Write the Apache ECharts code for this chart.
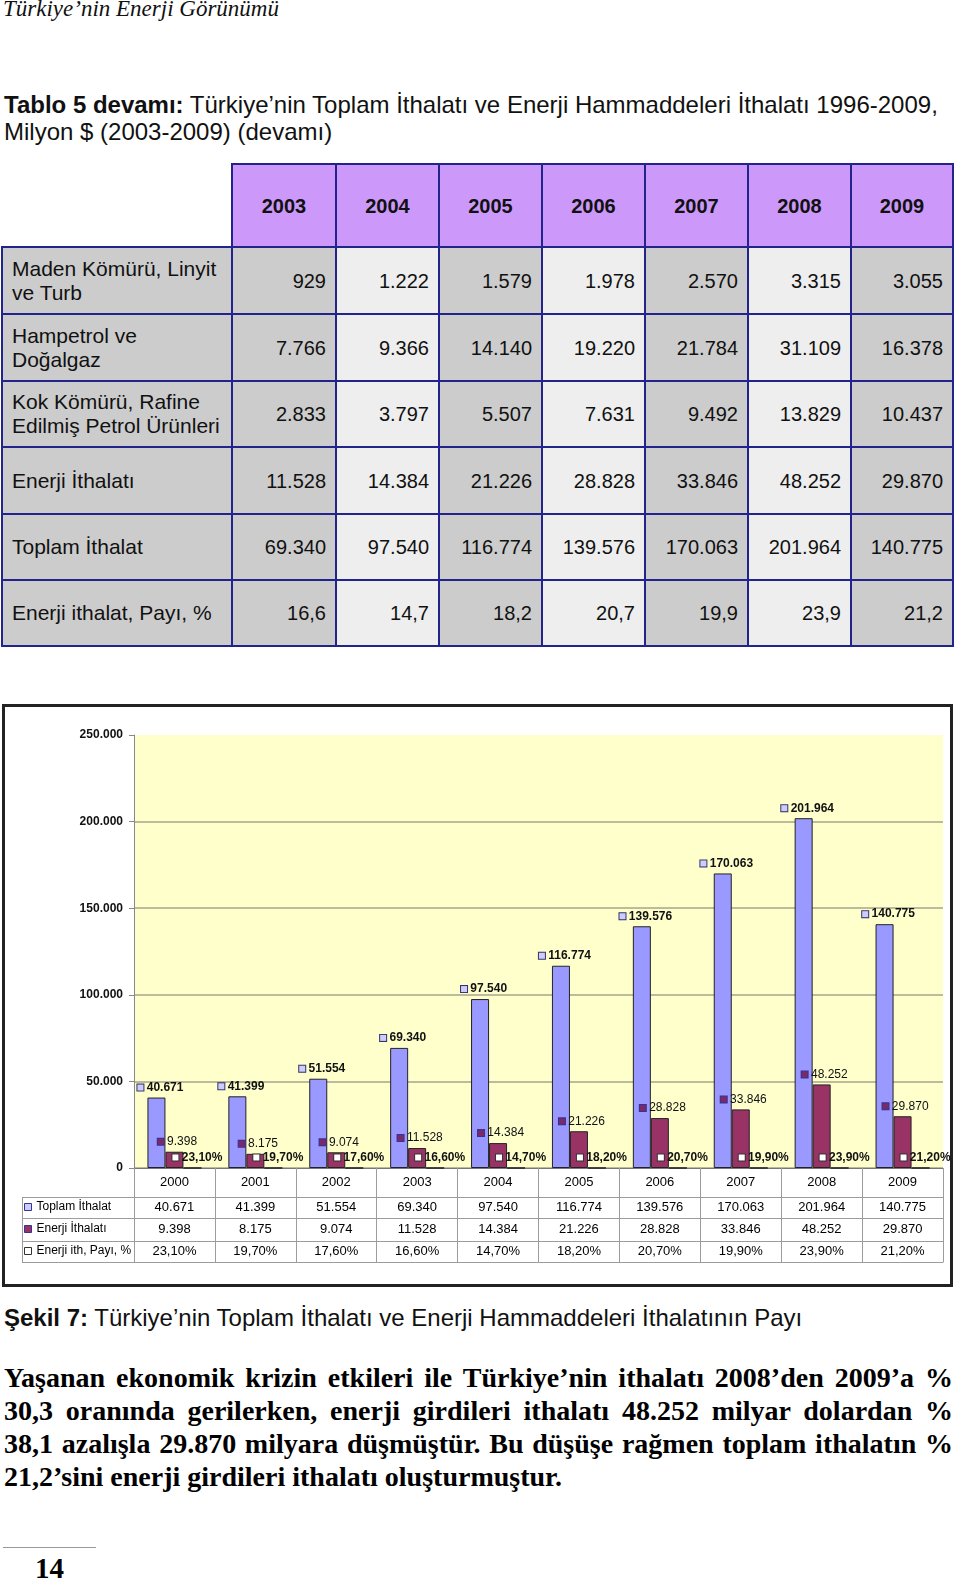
<!DOCTYPE html>
<html>
<head>
<meta charset="utf-8">
<script src="https://cdn.jsdelivr.net/npm/echarts/dist/echarts.min.js"></script>
<style>
  html, body { margin:0; padding:0; background:#fff; }
  body { width:960px; height:1585px; position:relative; overflow:hidden; }
  .abs { position:absolute; }
  .sans { font-family:"Liberation Sans", Arial, sans-serif; color:#111; }
  .serif { font-family:"Liberation Serif", "Times New Roman", serif; color:#111; }
  .cell { position:absolute; box-sizing:border-box; border:2px solid #23238c; display:flex; align-items:center;
          font-family:"Liberation Sans", Arial, sans-serif; font-size:21px; color:#111; line-height:24px; white-space:pre-line; }
  .para { position:absolute; left:4px; width:949px; font-family:"Liberation Serif","Times New Roman",serif; font-weight:bold;
          font-size:28px; line-height:33px; color:#000; white-space:nowrap; text-align:justify; text-align-last:justify; }
</style>
</head>
<body>
<div class="abs serif" style="left:3px; top:-4px; font-size:23px; line-height:26px; font-style:italic; white-space:nowrap;">Türkiye’nin Enerji Görünümü</div>

<div class="abs sans" style="left:4px; top:91px; font-size:24px; line-height:27px; white-space:nowrap;"><b>Tablo 5 devamı:</b> Türkiye’nin Toplam İthalatı ve Enerji Hammaddeleri İthalatı 1996-2009,<br>Milyon $ (2003-2009) (devamı)</div>

<div id="tbl"></div>

<div id="chart" class="abs" style="left:0; top:700px; width:960px; height:592px;"></div>

<div class="abs sans" style="left:4px; top:1304px; font-size:24px; line-height:28px; white-space:nowrap;"><b>Şekil 7:</b> Türkiye’nin Toplam İthalatı ve Enerji Hammaddeleri İthalatının Payı</div>

<div class="para" style="top:1361px;">Yaşanan ekonomik krizin etkileri ile Türkiye’nin ithalatı 2008’den 2009’a %</div>
<div class="para" style="top:1394px;">30,3 oranında gerilerken, enerji girdileri ithalatı 48.252 milyar dolardan %</div>
<div class="para" style="top:1427px;">38,1 azalışla 29.870 milyara düşmüştür. Bu düşüşe rağmen toplam ithalatın %</div>
<div class="para" style="top:1460px; text-align-last:left;">21,2’sini enerji girdileri ithalatı oluşturmuştur.</div>

<div class="abs" style="left:3px; top:1547px; width:93px; height:1px; background:#999;"></div>
<div class="abs serif" style="left:35px; top:1551px; font-size:29px; line-height:34px; font-weight:bold; color:#000;">14</div>

<script>
// ---------- Top table data ----------
var tableYears = ['2003','2004','2005','2006','2007','2008','2009'];
var rowLabels = ['Maden Kömürü, Linyit\nve Turb', 'Hampetrol ve\nDoğalgaz', 'Kok Kömürü, Rafine\nEdilmiş Petrol Ürünleri', 'Enerji İthalatı', 'Toplam İthalat', 'Enerji ithalat, Payı, %'];
var madenKomuru   = ['929','1.222','1.579','1.978','2.570','3.315','3.055'];
var hampetrol     = ['7.766','9.366','14.140','19.220','21.784','31.109','16.378'];
var kokKomuru     = ['2.833','3.797','5.507','7.631','9.492','13.829','10.437'];
var enerjiIthalati= ['11.528','14.384','21.226','28.828','33.846','48.252','29.870'];
var toplamIthalat = ['69.340','97.540','116.774','139.576','170.063','201.964','140.775'];
var enerjiPayi    = ['16,6','14,7','18,2','20,7','19,9','23,9','21,2'];

// ---------- Chart data ----------
var years  = ['2000','2001','2002','2003','2004','2005','2006','2007','2008','2009'];
var toplam = [40671, 41399, 51554, 69340, 97540, 116774, 139576, 170063, 201964, 140775];
var enerji = [9398, 8175, 9074, 11528, 14384, 21226, 28828, 33846, 48252, 29870];
var pay    = [23.10, 19.70, 17.60, 16.60, 14.70, 18.20, 20.70, 19.90, 23.90, 21.20];
var yTicks = { min: 0, max: 250000, interval: 50000 };

// ---------- build top table ----------
(function(){
  var colX = [2, 232, 336, 439, 542, 645, 748, 851, 953];
  var rowY = [247, 314, 381, 447, 514, 580, 646];
  var rows = [madenKomuru, hampetrol, kokKomuru, enerjiIthalati, toplamIthalat, enerjiPayi];
  var host = document.getElementById('tbl');
  function cell(x0, y0, x1, y1, txt, bg, align, extra){
    var d = document.createElement('div');
    d.className = 'cell';
    d.style.left = (x0 - 1) + 'px'; d.style.top = (y0 - 1) + 'px';
    d.style.width = (x1 - x0 + 2) + 'px'; d.style.height = (y1 - y0 + 2) + 'px';
    d.style.background = bg;
    d.style.justifyContent = align;
    if (extra) for (var k in extra) d.style[k] = extra[k];
    d.textContent = txt;
    host.appendChild(d);
  }
  for (var c = 0; c < tableYears.length; c++) {
    cell(colX[c+1], 164, colX[c+2], 247, tableYears[c], '#cc99fa', 'center', {fontWeight:'bold', fontSize:'20px'});
  }
  for (var r = 0; r < rows.length; r++) {
    cell(colX[0], rowY[r], colX[1], rowY[r+1], rowLabels[r], '#cccccc', 'flex-start', {paddingLeft:'9px'});
    for (var c2 = 0; c2 < 7; c2++) {
      var bg = (c2 % 2 === 0) ? '#cccccc' : '#eeeeee';
      cell(colX[c2+1], rowY[r], colX[c2+2], rowY[r+1], rows[r][c2], bg, 'flex-end', {paddingRight:'9px', fontSize:'20px'});
    }
  }
})();

// ---------- chart ----------
function thousands(v){ return String(v).replace(/\B(?=(\d{3})+(?!\d))/g, '.'); }
function pct(v){ return v.toFixed(2).replace('.', ',') + '%'; }

var SANS = '"Liberation Sans", Arial, sans-serif';
var gridCol = '#9c9c9c';

function sq(bg, border){
  return { width:6, height:6, backgroundColor:bg, borderColor:border, borderWidth:1, verticalAlign:'middle' };
}

var chart = echarts.init(document.getElementById('chart'), null, {renderer:'canvas'});

function rowAxis(data, offset, margin){
  return {
    type:'category', gridIndex:0, position:'bottom', offset:offset, data:data,
    axisLine:{show:true, lineStyle:{color:gridCol, width:1}},
    axisTick:{show:false}, splitLine:{show:false},
    axisLabel:{show: data.length > 0, interval:0, margin:margin, fontFamily:SANS, fontSize:13, color:'#000'}
  };
}

var legendText = {fontFamily:SANS, fontSize:12, color:'#000', lineHeight:14};

var option = {
  animation:false,
  backgroundColor:'transparent',
  grid:{ left:134, right:17, top:35, height:433, show:true, backgroundColor:'#ffffcc', borderWidth:0 },
  xAxis:[
    {
      type:'category', data:years, position:'bottom',
      axisLine:{show:true, lineStyle:{color:'#777', width:1}},
      axisTick:{show:true, length:94, interval:0, lineStyle:{color:gridCol, width:1}},
      axisLabel:{interval:0, margin:8, fontFamily:SANS, fontSize:13, color:'#000'}
    },
    rowAxis(toplam.map(thousands), 29, 4),
    rowAxis(enerji.map(thousands), 50, 5),
    rowAxis(pay.map(pct), 73, 4),
    rowAxis(years.map(function(){return '';}), 94, 4)
  ],
  yAxis:{
    type:'value', min:yTicks.min, max:yTicks.max, interval:yTicks.interval,
    axisLine:{show:true, lineStyle:{color:'#888', width:1}},
    axisTick:{show:true, length:5, lineStyle:{color:'#888'}},
    axisLabel:{margin:11, fontFamily:SANS, fontSize:12, fontWeight:'bold', color:'#111', formatter:thousands},
    splitLine:{show:true, showMaxLine:false, lineStyle:{color:'#a6a68e', width:1.5}}
  },
  legend:[
    { data:[{name:'Toplam İthalat', itemStyle:{color:'#ccccff', borderColor:'#333399', borderWidth:1}}],
      left:24, top:500, padding:0, itemWidth:7, itemHeight:7, icon:'rect', selectedMode:false, textStyle:legendText },
    { data:[{name:'Enerji İthalatı', itemStyle:{color:'#993366', borderColor:'#333399', borderWidth:1}}],
      left:24, top:522, padding:0, itemWidth:7, itemHeight:7, icon:'rect', selectedMode:false, textStyle:legendText },
    { data:[{name:'Enerji ith, Payı, %', itemStyle:{color:'#ffffff', borderColor:'#333333', borderWidth:1}}],
      left:24, top:544, padding:0, itemWidth:7, itemHeight:7, icon:'rect', selectedMode:false, textStyle:legendText }
  ],
  series:[
    {
      name:'Toplam İthalat', type:'bar', data:toplam, barWidth:18, barGap:'0%',
      itemStyle:{color:'#9999ff', borderColor:'#222', borderWidth:1},
      label:{show:true, position:'top', distance:4, offset:[4,0],
        formatter:function(p){ return '{s| }{v| ' + thousands(p.value) + '}'; },
        rich:{ s:sq('#ccccff','#333366'), v:{fontFamily:SANS, fontSize:12, fontWeight:'bold', color:'#111'} } }
    },
    {
      name:'Enerji İthalatı', type:'bar', data:enerji, barWidth:18, barGap:'0%',
      itemStyle:{color:'#993366', borderColor:'#222', borderWidth:1},
      label:{show:true, position:'top', distance:4, offset:[3,0],
        formatter:function(p){ return '{s| }{v| ' + thousands(p.value) + '}'; },
        rich:{ s:sq('#7a2a66','#333399'), v:{fontFamily:SANS, fontSize:12, color:'#111'} } }
    },
    {
      name:'Enerji ith, Payı, %', type:'bar', data:pay, barWidth:18, barGap:'0%',
      itemStyle:{color:'#ffffff', borderColor:'#222', borderWidth:1},
      label:{show:true, position:'top', distance:4, offset:[5,0],
        formatter:function(p){ return '{s| }{v| ' + pct(p.value) + '}'; },
        rich:{ s:sq('#ffffff','#333333'), v:{fontFamily:SANS, fontSize:12, fontWeight:'bold', color:'#111'} } }
    }
  ],
  graphic:[
    { type:'rect', shape:{x:3.5, y:5.5, width:948, height:580}, style:{fill:'none', stroke:'#222', lineWidth:3}, silent:true },
    { type:'line', shape:{x1:22, y1:497.5, x2:134, y2:497.5}, style:{stroke:gridCol, lineWidth:1}, silent:true },
    { type:'line', shape:{x1:22, y1:518.5, x2:134, y2:518.5}, style:{stroke:gridCol, lineWidth:1}, silent:true },
    { type:'line', shape:{x1:22, y1:541.5, x2:134, y2:541.5}, style:{stroke:gridCol, lineWidth:1}, silent:true },
    { type:'line', shape:{x1:22, y1:562.5, x2:134, y2:562.5}, style:{stroke:gridCol, lineWidth:1}, silent:true },
    { type:'line', shape:{x1:22.5, y1:497, x2:22.5, y2:563}, style:{stroke:gridCol, lineWidth:1}, silent:true }
  ]
};
chart.setOption(option);
</script>
</body>
</html>
